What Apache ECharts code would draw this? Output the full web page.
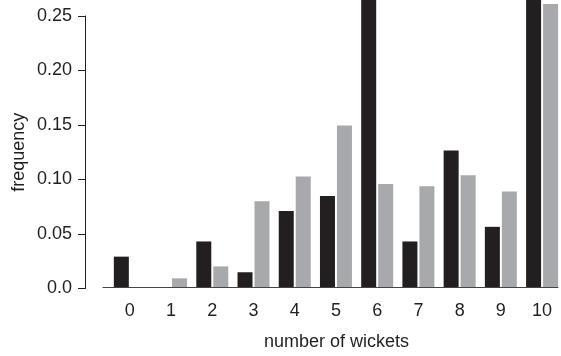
<!DOCTYPE html>
<html><head><meta charset="utf-8">
<script src="https://cdn.jsdelivr.net/npm/echarts@6/dist/echarts.min.js"></script>
<style>html,body{margin:0;padding:0;background:#fff}#c{width:561px;height:356px}</style>
</head><body><div id="c"></div>
<script>
const categories = [0,1,2,3,4,5,6,7,8,9,10];
const blackValues = [0.028, 0, 0.042, 0.0136, 0.070, 0.084, 0.30, 0.042, 0.126, 0.0555, 0.30];
const greyValues  = [0, 0.008, 0.019, 0.079, 0.102, 0.149, 0.095, 0.093, 0.103, 0.088, 0.261];
const yTicks = [0, 0.05, 0.10, 0.15, 0.20, 0.25];

const font = '"Liberation Sans", Arial, Helvetica, sans-serif';
const ink = '#231f20';
const fs = 18;
const chart = echarts.init(document.getElementById('c'));
chart.setOption({
  animation: false,
  textStyle: {fontFamily: font},
  grid: [
    {left: 103, right: 0, top: 0, bottom: 67.5},
    {left: 85, width: 1, top: 16, bottom: 67.5}
  ],
  xAxis: [
    {gridIndex: 0, type: 'value', min: -0.651, max: 10.386, splitNumber: 10,
     splitLine: {show: false}, axisTick: {show: false},
     axisLine: {show: true, lineStyle: {color: '#444', width: 1}},
     axisLabel: {color: ink, fontSize: fs, margin: 15, fontFamily: font,
       formatter: v => (Math.abs(v - Math.round(v)) < 1e-6 && categories.includes(Math.round(v))) ? String(Math.round(v)) : ''},
     name: 'number of wickets', nameLocation: 'middle', nameGap: 46,
     nameTextStyle: {color: ink, fontSize: fs, fontFamily: font, padding: [0, 0, 0, 12]}},
    {gridIndex: 1, type: 'value', show: false}
  ],
  yAxis: [
    {gridIndex: 0, type: 'value', min: 0, max: 0.2647, show: false},
    {gridIndex: 1, type: 'value', min: 0, max: yTicks[yTicks.length-1], interval: 0.05,
     splitLine: {show: false},
     axisLine: {show: true, lineStyle: {color: ink, width: 1}},
     axisTick: {show: true, length: 7, lineStyle: {color: ink}},
     axisLabel: {color: ink, fontSize: fs, margin: 13, fontFamily: font,
       formatter: v => v === 0 ? '0.0' : v.toFixed(2)},
     name: 'frequency', nameLocation: 'middle', nameGap: 57,
     nameTextStyle: {color: ink, fontSize: fs, fontFamily: font}}
  ],
  series: [
    {type: 'bar', xAxisIndex: 0, yAxisIndex: 0, clip: true, barWidth: 15, barGap: '13.3%',
     itemStyle: {color: ink}, data: categories.map((c, i) => [c, blackValues[i]])},
    {type: 'bar', xAxisIndex: 0, yAxisIndex: 0, clip: true, barWidth: 15, barGap: '13.3%',
     itemStyle: {color: '#a7a9ac'}, data: categories.map((c, i) => [c, greyValues[i]])}
  ]
});
</script></body></html>
